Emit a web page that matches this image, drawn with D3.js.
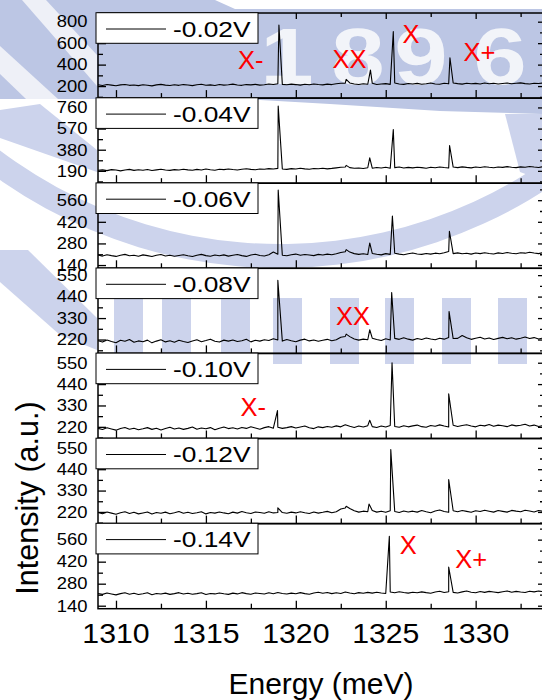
<!DOCTYPE html>
<html>
<head>
<meta charset="utf-8">
<script src="https://cdn.jsdelivr.net/npm/d3@7/dist/d3.min.js"></script>
<style>
  body { margin: 0; background: #fff; }
  svg { display: block; }
  text { font-family: "Liberation Sans", Arial, sans-serif; }
</style>
</head>
<body>
<svg id="chart" width="542" height="700"></svg>
<script>
// ---- spectra: intensity sampled every 0.25 meV from 1309 meV, plus sharp emission lines ----
const energyStart = 1309;
const energyStep = 0.25;

const biasLabels = ["-0.02V", "-0.04V", "-0.06V", "-0.08V", "-0.10V", "-0.12V", "-0.14V"];

const yMin = [88, 79, 119, 149, 160, 160, 121];
const yMax = [881, 844, 670, 585, 598, 598, 662];
const yTickValues = [
  [200, 400, 600, 800], [190, 380, 570, 760], [140, 280, 420, 560], [220, 330, 440, 550],
  [220, 330, 440, 550], [220, 330, 440, 550], [140, 280, 420, 560]
];
const yMinorValues = [
  [100, 300, 500, 700], [95, 285, 475, 665], [210, 350, 490, 630], [165, 275, 385, 495],
  [165, 275, 385, 495], [165, 275, 385, 495], [210, 350, 490, 630]
];
const xTickValues = [1310, 1315, 1320, 1325, 1330];
const xMinorValues = [1312.5, 1317.5, 1322.5, 1327.5, 1332.5];

const base002 = [212,206,214,209,203,211,215,207,210,204,
  213,208,202,211,216,209,205,212,207,214,
  210,204,213,217,208,211,206,215,209,212,
  218,210,207,214,211,216,209,213,219,215,
  222,216,212,218,214,209,217,213,220,215,
  211,218,214,221,226,228,229,219,215,222,
  217,226,214,219,223,216,228,220,216,224,
  219,225,217,222,228,220,217,226,221,229,
  223,218,227,221,225,219,229,222,226,220,
  224,228,221,226,230,223,219,227,224,229,225];
const base004 = [195,199,192,201,197,190,198,203,194,200,
  196,202,193,199,205,197,194,201,198,204,
  199,195,203,198,206,200,196,204,201,207,
  202,198,205,209,203,200,207,204,210,206,
  212,207,203,210,206,213,208,204,211,209,
  214,208,212,217,222,224,219,213,216,211,
  218,214,220,216,223,213,219,224,215,221,
  217,223,219,214,222,218,225,220,216,224,
  219,226,221,217,224,220,227,222,218,225,
  221,228,223,219,226,222,229,224,220,227,223];
const base006 = [205,198,207,201,196,204,209,200,203,197,
  206,201,195,203,208,199,204,197,202,207,
  200,195,204,209,201,197,205,200,206,198,
  203,208,201,196,205,210,202,199,207,224,
  210,204,200,207,211,203,208,205,201,209,
  205,211,207,213,221,226,224,214,209,213,
  208,215,210,206,214,209,216,211,207,213,
  218,212,209,215,211,217,213,220,228,214,
  219,213,216,211,218,214,220,215,212,219,
  215,221,216,213,220,217,223,218,214,221,217];
const base008 = [214,207,218,210,204,216,211,220,206,213,
  209,217,203,212,219,208,214,206,216,210,
  205,213,219,209,215,222,211,207,217,212,
  218,210,214,221,208,216,212,219,215,224,
  218,212,220,214,209,217,222,213,218,211,
  216,221,214,219,232,236,235,223,217,222,
  219,227,220,215,224,218,226,221,229,222,
  217,225,220,228,223,219,227,222,230,225,
  226,241,229,221,227,232,223,228,220,226,
  231,224,229,222,227,233,225,230,223,228,226];
const base010 = [212,206,215,209,203,211,217,208,213,205,
  210,216,207,213,204,211,218,209,214,207,
  212,219,208,214,210,216,205,213,219,211,
  215,209,217,212,220,214,208,216,221,213,
  218,212,216,221,214,219,224,215,211,220,
  216,222,218,225,220,231,223,217,224,219,
  226,221,217,224,219,227,222,218,226,220,
  225,229,221,218,227,223,230,224,219,228,
  222,227,231,224,220,228,225,232,223,229,
  226,221,230,225,228,233,224,229,222,227,231];
const base012 = [217,211,220,214,208,216,221,212,218,210,
  215,220,209,217,213,219,211,216,222,213,
  218,212,216,221,210,217,214,220,215,211,
  219,214,222,216,212,220,217,213,221,215,
  217,217,213,219,215,221,216,212,220,214,
  218,223,216,221,235,240,238,226,219,224,
  221,228,219,224,218,226,222,217,225,220,
  224,219,227,221,216,225,230,222,218,226,
  221,227,223,218,226,222,229,224,219,227,
  223,219,228,224,221,229,225,220,227,223,226];
const base014 = [218,212,221,215,209,217,222,213,219,211,
  216,222,210,218,214,220,212,217,223,214,
  219,213,217,222,211,218,215,221,216,212,
  220,215,223,217,213,221,218,214,222,216,
  224,218,214,220,216,223,217,213,221,226,
  219,224,217,222,218,227,221,216,223,219,
  225,220,226,221,218,227,222,229,224,220,
  226,222,228,223,219,227,232,224,229,225,
  221,228,233,226,222,230,225,231,227,223,
  229,234,226,231,227,224,232,228,233,229,226];

// emission lines [energy (meV), peak intensity]
const peaks002 = [[1319.06, 769], [1322.8, 262], [1324.15, 349], [1325.42, 707], [1328.57, 464]];
const peaks004 = [[1319.02, 772], [1322.8, 239], [1324.11, 307], [1325.42, 562], [1328.55, 418]];
const peaks006 = [[1319.02, 625], [1322.8, 240], [1324.11, 283], [1325.37, 458], [1328.54, 359]];
const peaks008 = [[1319.0, 524], [1322.8, 248], [1324.11, 270], [1325.33, 461], [1328.52, 364]];
const peaks010 = [[1318.98, 304], [1324.11, 254], [1325.35, 550], [1328.5, 390]];
const peaks012 = [[1319.0, 241], [1322.8, 249], [1324.07, 261], [1325.28, 541], [1328.5, 387]];
const peaks014 = [[1325.2, 581], [1328.5, 386]];

const baselines = [base002, base004, base006, base008, base010, base012, base014];
const peakLists = [peaks002, peaks004, peaks006, peaks008, peaks010, peaks012, peaks014];

// red state labels: [panel, text, energy at left edge, intensity at text baseline]
const stateLabels = [
  [0, "X-", 1316.79, 356], [0, "XX", 1322.04, 366], [0, "X", 1325.93, 604], [0, "X+", 1329.33, 434],
  [3, "XX", 1322.24, 295],
  [4, "X-", 1316.93, 277],
  [6, "X", 1325.78, 469], [6, "X+", 1328.87, 378]
];

// ---- layout ----
const svg = d3.select("#chart");
const plotLeft = 98, plotRight = 544;
const panelTop0 = 13, panelH = 85.1;
const nPanels = biasLabels.length;

const x = d3.scaleLinear().domain([1309, 1333.8]).range([plotLeft, plotRight]);

// ---- faint institutional watermark behind the figure ----
const wm = svg.append("g").attr("class", "watermark");
const wmBlue = "#bcc6e4";
const wmLight = "#ccd3ec";
wm.append("path")
  .attr("d", "M0,0 L215,0 L235,9 L542,9 L542,114 L440,111 L330,104 L260,100 L97,99 L0,99 Z")
  .attr("fill", wmBlue);
wm.append("path").attr("d", "M22,0 L46,0 L97,55 L97,86 Z").attr("fill", "#eef0f7");
wm.append("path").attr("d", "M0,46 L0,74 L26,99 L58,99 Z").attr("fill", "#eef0f7");
wm.append("path").attr("d", "M505,114 L542,114 L542,180 L520,172 Z").attr("fill", wmLight);
wm.append("path")
  .attr("transform", "translate(280,-222)")
  .attr("d", d3.arc()({innerRadius: 466, outerRadius: 490, startAngle: 2.3, endAngle: 3.95}))
  .attr("fill", wmLight);
wm.append("path").attr("d", "M0,250 L28,250 L97,318 L97,350 L60,335 L0,282 Z").attr("fill", wmLight);
wm.append("path").attr("d", "M0,110 L40,104 L97,150 L97,172 L0,138 Z").attr("fill", wmLight);
[114, 162, 221, 273, 330, 385, 442, 498].forEach(px => {
  wm.append("rect").attr("x", px).attr("y", 298).attr("width", 29).attr("height", 66)
    .attr("fill", wmLight);
});
const digits = [["1", 287], ["8", 358], ["9", 421], ["6", 500]];
digits.forEach(([t, cx]) => {
  wm.append("text")
    .attr("transform", `translate(${cx},84) scale(1.2,1)`)
    .attr("text-anchor", "middle")
    .attr("font-size", 80).attr("font-weight", "bold")
    .attr("fill", "#f2f4f9")
    .text(t);
});

// ---- panels ----
const line = d3.line();

for (let p = 0; p < nPanels; p++) {
  const top = panelTop0 + p * panelH;
  const bottom = top + panelH;
  const y = d3.scaleLinear().domain([yMin[p], yMax[p]]).range([bottom, top]);
  const g = svg.append("g").attr("class", "panel");

  const clipId = "clip" + p;
  g.append("clipPath").attr("id", clipId)
    .append("rect").attr("x", plotLeft).attr("y", top).attr("width", plotRight - plotLeft).attr("height", panelH);

  // spectrum
  const pts = baselines[p].map((v, i) => [energyStart + i * energyStep, v])
    .concat(peakLists[p])
    .sort((a, b) => a[0] - b[0]);
  g.append("path")
    .attr("clip-path", `url(#${clipId})`)
    .attr("d", line(pts.map(d => [x(d[0]), y(d[1])])))
    .attr("fill", "none").attr("stroke", "#000").attr("stroke-width", 1.1)
    .attr("stroke-linejoin", "round");

  // axes: inward ticks
  const tickStyle = sel => {
    sel.select(".domain").remove();
    sel.selectAll("line").attr("stroke", "#000").attr("stroke-width", 1.3);
    sel.selectAll("text").remove();
  };
  g.append("g").attr("transform", `translate(0,${bottom})`)
    .call(d3.axisBottom(x).tickValues(xTickValues).tickSize(-8).tickSizeOuter(0)).call(tickStyle);
  g.append("g").attr("transform", `translate(0,${bottom})`)
    .call(d3.axisBottom(x).tickValues(xMinorValues).tickSize(-5).tickSizeOuter(0)).call(tickStyle);
  if (p === 0) {
    g.append("g").attr("transform", `translate(0,${top})`)
      .call(d3.axisTop(x).tickValues(xTickValues).tickSize(-6).tickSizeOuter(0)).call(tickStyle);
    g.append("g").attr("transform", `translate(0,${top})`)
      .call(d3.axisTop(x).tickValues(xMinorValues).tickSize(-4).tickSizeOuter(0)).call(tickStyle);
  }
  g.append("g").attr("transform", `translate(${plotLeft},0)`)
    .call(d3.axisLeft(y).tickValues(yTickValues[p]).tickSize(-8).tickSizeOuter(0)).call(tickStyle);
  g.append("g").attr("transform", `translate(${plotLeft},0)`)
    .call(d3.axisLeft(y).tickValues(yMinorValues[p]).tickSize(-5).tickSizeOuter(0)).call(tickStyle);
  g.append("g").attr("transform", `translate(${plotRight},0)`)
    .call(d3.axisRight(y).tickValues(yTickValues[p]).tickSize(-6).tickSizeOuter(0)).call(tickStyle);
  g.append("g").attr("transform", `translate(${plotRight},0)`)
    .call(d3.axisRight(y).tickValues(yMinorValues[p]).tickSize(-4).tickSizeOuter(0)).call(tickStyle);

  // frame
  g.append("rect").attr("x", plotLeft).attr("y", top)
    .attr("width", plotRight - plotLeft).attr("height", panelH)
    .attr("fill", "none").attr("stroke", "#000").attr("stroke-width", 1.5);

  // y tick labels
  yTickValues[p].forEach(v => {
    g.append("text")
      .attr("transform", `translate(87.5,${y(v) + 5.8}) scale(1.15,1)`)
      .attr("text-anchor", "end").attr("font-size", 16).attr("fill", "#000")
      .text(v);
  });

  // legend
  const lg = g.append("g").attr("class", "legend");
  lg.append("rect").attr("x", 96).attr("y", top - 0.3).attr("width", 162).attr("height", 30.6)
    .attr("fill", "#fff").attr("stroke", "#000").attr("stroke-width", 1);
  lg.append("line").attr("x1", 106).attr("x2", 166).attr("y1", top + 16).attr("y2", top + 16)
    .attr("stroke", "#000").attr("stroke-width", 1);
  lg.append("text")
    .attr("transform", `translate(173,${top + 23.8}) scale(1.17,1)`)
    .attr("font-size", 22.5).attr("fill", "#000")
    .text(biasLabels[p]);

  // state labels
  stateLabels.filter(d => d[0] === p).forEach(([, t, e, v]) => {
    g.append("text")
      .attr("x", x(e)).attr("y", y(v))
      .attr("font-size", 25.5).attr("fill", "#ff0000")
      .text(t);
  });

  // bottom x tick labels
  if (p === nPanels - 1) {
    xTickValues.forEach(v => {
      g.append("text")
        .attr("transform", `translate(${x(v)},643) scale(1.08,1)`)
        .attr("text-anchor", "middle").attr("font-size", 28).attr("fill", "#000")
        .text(v);
    });
  }
}

// axis titles
svg.append("text")
  .attr("x", 321).attr("y", 694)
  .attr("text-anchor", "middle").attr("font-size", 30).attr("fill", "#000")
  .text("Energy (meV)");
svg.append("text")
  .attr("transform", "translate(38,498) rotate(-90)")
  .attr("text-anchor", "middle").attr("font-size", 30.5).attr("fill", "#000")
  .text("Intensity (a.u.)");
</script>
</body>
</html>
